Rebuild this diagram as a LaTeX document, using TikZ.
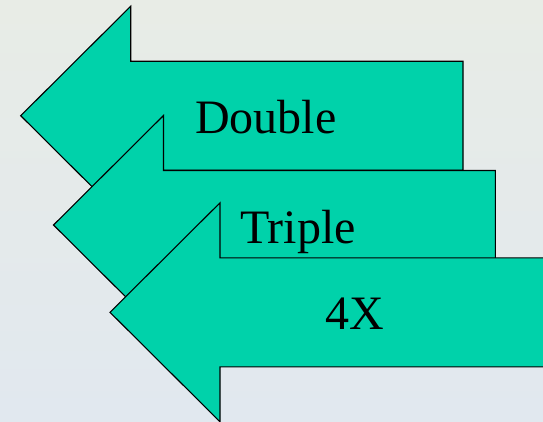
\documentclass[tikz,border=0pt]{standalone}
\usepackage{fontspec}
\usepackage{tikz}
\usetikzlibrary{calc}
\setmainfont{Liberation Serif}
\definecolor{slidetop}{HTML}{E8ECE6}
\definecolor{slidebottom}{HTML}{E1E8EF}
\definecolor{arrowteal}{HTML}{00D2AA}

% left-pointing block arrow: tip x, tip y, right end x
\newcommand{\leftblock}[4]{%
  \draw[blockarrow] (#1,#2) -- ++(110,-109.5) -- ++(0,55) -- (#3,#2-54.5)
    -- (#3,#2+54.5) -- (#1+110,#2+54.5) -- (#1+110,#2+109.5) -- cycle;
  \coordinate (#4) at (#1,#2);
}

\begin{document}
\begin{tikzpicture}[
  x=1pt, y=-1pt,
  blockarrow/.style={fill=arrowteal, draw=black, line width=1.1pt, line join=miter},
  arrowlabel/.style={anchor=base west, inner sep=0pt, font=\fontsize{48}{56}\selectfont}
]
\shade[top color=slidetop, bottom color=slidebottom] (0,0) rectangle (543,421);
\useasboundingbox (0,0) rectangle (543,421);
\clip (0,0) rectangle (543,421);

\leftblock{20.7}{115.7}{463}{double tip}
\leftblock{53.5}{225}{495.3}{triple tip}
\leftblock{110}{312.3}{560}{quad tip}

\node[arrowlabel] (double) at (195,133.3) {Double};
\node[arrowlabel] (triple) at (240,243.3) {Triple};
\node[arrowlabel] (quad) at (325,329.3) {4X};
\end{tikzpicture}
\end{document}
